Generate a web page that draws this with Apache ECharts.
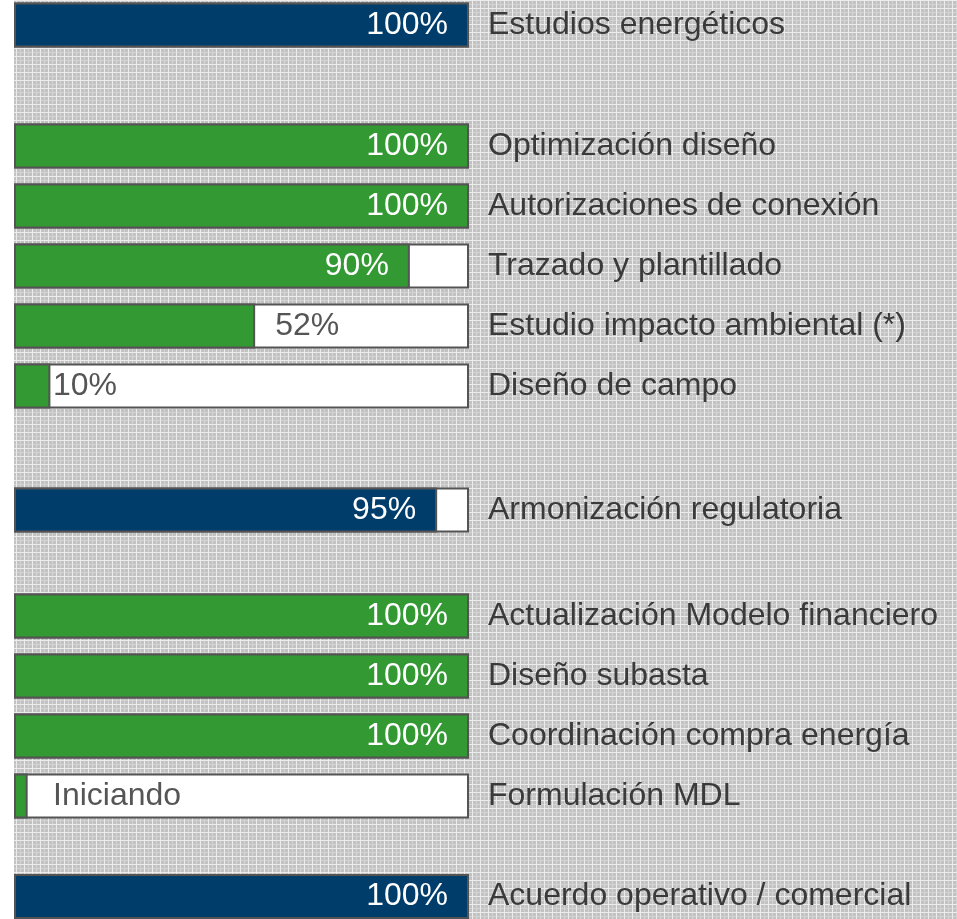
<!DOCTYPE html>
<html>
<head>
<meta charset="utf-8">
<script src="https://cdn.jsdelivr.net/npm/echarts@6/dist/echarts.min.js"></script>
<style>
  html, body { margin: 0; padding: 0; background: #fff; }
  #chart { width: 957px; height: 919px; }
</style>
</head>
<body>
<div id="chart"></div>
<script>
  // rows, top to bottom
  const tasks = [
    'Estudios energéticos',
    'Optimización diseño',
    'Autorizaciones de conexión',
    'Trazado y plantillado',
    'Estudio impacto ambiental (*)',
    'Diseño de campo',
    'Armonización regulatoria',
    'Actualización Modelo financiero',
    'Diseño subasta',
    'Coordinación compra energía',
    'Formulación MDL',
    'Acuerdo operativo / comercial'
  ];
  // fill length as drawn (the printed text is rounded differently)
  const progress = [100, 100, 100, 87, 53, 8, 93, 100, 100, 100, 3, 100];
  const progressText = ['100%', '100%', '100%', '90%', '52%', '10%', '95%', '100%', '100%', '100%', 'Iniciando', '100%'];
  const groupOf = [0, 1, 1, 1, 1, 1, 2, 3, 3, 3, 3, 4];

  const groupColor = ['#003d6b', '#339933', '#003d6b', '#339933', '#003d6b'];
  const groupTop = [-10, 116, 480, 586, 874];
  const rowPitch = 60;
  const font = 'Liberation Sans, Arial, sans-serif';
  const border = '#545454';

  // grey grid texture of the slide background
  function makePattern() {
    const c = document.createElement('canvas');
    c.width = 8; c.height = 8;
    const ctx = c.getContext('2d');
    ctx.fillStyle = '#c2c2c2';
    ctx.fillRect(0, 0, 8, 8);
    ctx.fillStyle = '#d2d2d2';
    ctx.fillRect(4, 0, 1, 8);
    ctx.fillRect(0, 4, 8, 1);
    ctx.fillStyle = '#ececec';
    ctx.fillRect(0, 0, 1, 8);
    ctx.fillRect(0, 0, 8, 1);
    return c;
  }

  const chart = echarts.init(document.getElementById('chart'));

  const grid = [], xAxis = [], yAxis = [], series = [];

  groupColor.forEach((color, g) => {
    const rows = [];
    groupOf.forEach((gg, i) => { if (gg === g) rows.push(i); });

    grid.push({ left: 14, right: 488, top: groupTop[g], height: rows.length * rowPitch });
    xAxis.push({ gridIndex: g, type: 'value', min: 0, max: 100, show: false });
    yAxis.push({
      gridIndex: g,
      type: 'category',
      inverse: true,
      position: 'right',
      data: rows.map(i => tasks[i]),
      axisLine: { show: false },
      axisTick: { show: false },
      splitLine: { show: false },
      axisLabel: { color: '#3a3a3a', fontSize: 32, fontFamily: font, margin: 19, align: 'left' }
    });

    // white full track
    series.push({
      type: 'bar', xAxisIndex: g, yAxisIndex: g,
      barWidth: 45, barGap: '-100%', silent: true,
      itemStyle: { color: '#fff', borderColor: border, borderWidth: 2 },
      data: rows.map(i => ({
        value: 100,
        label: {
          show: progress[i] < 20,
          position: 'insideLeft', distance: 39,
          formatter: progressText[i],
          color: '#555', fontSize: 32, fontFamily: font
        }
      }))
    });

    // progress fill
    series.push({
      type: 'bar', xAxisIndex: g, yAxisIndex: g, stack: 'p' + g,
      barWidth: 45, barGap: '-100%', silent: true,
      itemStyle: { color: color, borderColor: border, borderWidth: 2 },
      data: rows.map(i => ({
        value: progress[i],
        label: {
          show: progress[i] >= 60,
          position: 'insideRight', distance: 21,
          formatter: progressText[i],
          color: '#fff', fontSize: 32, fontFamily: font
        }
      }))
    });

    // remaining part, only carries the label
    series.push({
      type: 'bar', xAxisIndex: g, yAxisIndex: g, stack: 'p' + g,
      barWidth: 45, barGap: '-100%', silent: true,
      itemStyle: { color: 'rgba(0,0,0,0)' },
      data: rows.map(i => ({
        value: 100 - progress[i],
        label: {
          show: progress[i] >= 20 && progress[i] < 60,
          position: 'insideLeft', distance: 20,
          formatter: progressText[i],
          color: '#555', fontSize: 32, fontFamily: font
        }
      }))
    });
  });

  chart.setOption({
    animation: false,
    backgroundColor: { image: makePattern(), repeat: 'repeat' },
    graphic: [{
      type: 'rect', left: 0, top: 0, z: -10,
      shape: { width: 14, height: 919 },
      style: { fill: '#fff' }
    }],
    grid: grid,
    xAxis: xAxis,
    yAxis: yAxis,
    series: series
  });
</script>
</body>
</html>
